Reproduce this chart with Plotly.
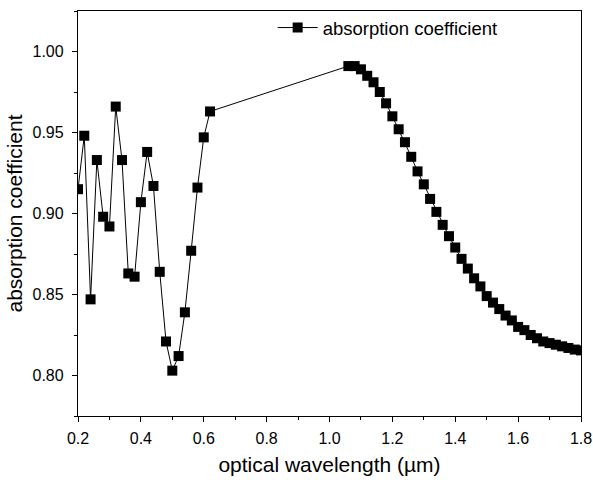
import plotly.graph_objects as go

wavelength = [0.20, 0.22, 0.24, 0.26, 0.28, 0.30, 0.32, 0.34, 0.36, 0.38, 0.40,
              0.42, 0.44, 0.46, 0.48, 0.50, 0.52, 0.54, 0.56, 0.58, 0.60, 0.62,
              1.06, 1.08, 1.10, 1.12, 1.14, 1.16, 1.18, 1.20, 1.22, 1.24, 1.26,
              1.28, 1.30, 1.32, 1.34, 1.36, 1.38, 1.40, 1.42, 1.44, 1.46, 1.48,
              1.50, 1.52, 1.54, 1.56, 1.58, 1.60, 1.62, 1.64, 1.66, 1.68, 1.70,
              1.72, 1.74, 1.76, 1.78, 1.80]
absorption = [0.915, 0.948, 0.847, 0.933, 0.898, 0.892, 0.966, 0.933, 0.863, 0.861, 0.907,
              0.938, 0.917, 0.864, 0.821, 0.803, 0.812, 0.839, 0.877, 0.916, 0.947, 0.963,
              0.991, 0.991, 0.989, 0.985, 0.981, 0.975, 0.968, 0.960, 0.952, 0.944, 0.935,
              0.926, 0.918, 0.909, 0.901, 0.893, 0.886, 0.879, 0.872, 0.866, 0.860, 0.855,
              0.849, 0.845, 0.841, 0.837, 0.834, 0.830, 0.828, 0.825, 0.823, 0.821, 0.820,
              0.819, 0.818, 0.817, 0.816, 0.8155]

x_ticks = [0.2, 0.4, 0.6, 0.8, 1.0, 1.2, 1.4, 1.6, 1.8]
x_ticklabels = ["0.2", "0.4", "0.6", "0.8", "1.0", "1.2", "1.4", "1.6", "1.8"]
y_ticks = [0.80, 0.85, 0.90, 0.95, 1.00]
y_ticklabels = ["0.80", "0.85", "0.90", "0.95", "1.00"]

FONT = "Liberation Sans, Arial, sans-serif"

fig = go.Figure()
fig.add_trace(go.Scatter(
    x=wavelength, y=absorption, mode="lines+markers",
    name="absorption coefficient",
    line=dict(color="black", width=1),
    marker=dict(symbol="square", size=10, color="black"),
))

fig.update_layout(
    width=593, height=480,
    margin=dict(l=78, r=12, t=11, b=64, autoexpand=False),
    paper_bgcolor="white", plot_bgcolor="white",
    font=dict(family=FONT, color="black", size=16),
    showlegend=True,
    legend=dict(x=0.387, y=0.958, xanchor="left", yanchor="middle",
                bgcolor="rgba(0,0,0,0)", font=dict(size=18.5, family=FONT),
                itemwidth=40),
    xaxis=dict(
        range=[0.2, 1.8], tickvals=x_ticks, ticktext=x_ticklabels,
        showline=True, linecolor="black", linewidth=1.3, mirror=True,
        ticks="outside", ticklen=5, tickwidth=1.3, tickcolor="black",
        minor=dict(dtick=0.1, ticks="outside", ticklen=3, tickwidth=1.3, tickcolor="black"),
        showgrid=False, zeroline=False, ticklabelstandoff=3, automargin=False,
        tickfont=dict(size=16, family=FONT),
        title=dict(text="optical wavelength (µm)", font=dict(size=21, family=FONT), standoff=10),
    ),
    yaxis=dict(
        range=[0.775, 1.025], tickvals=y_ticks, ticktext=y_ticklabels,
        showline=True, linecolor="black", linewidth=1.3, mirror=True,
        ticks="outside", ticklen=5, tickwidth=1.3, tickcolor="black",
        minor=dict(dtick=0.025, tick0=0.775, ticks="outside", ticklen=3, tickwidth=1.3, tickcolor="black"),
        showgrid=False, zeroline=False, ticklabelstandoff=5, automargin=False,
        tickfont=dict(size=16, family=FONT),
        title=dict(text="absorption coefficient", font=dict(size=21, family=FONT), standoff=4),
    ),
)

fig.write_html("out.html", config={"displayModeBar": False},
               post_script="document.body.style.margin='0';")
